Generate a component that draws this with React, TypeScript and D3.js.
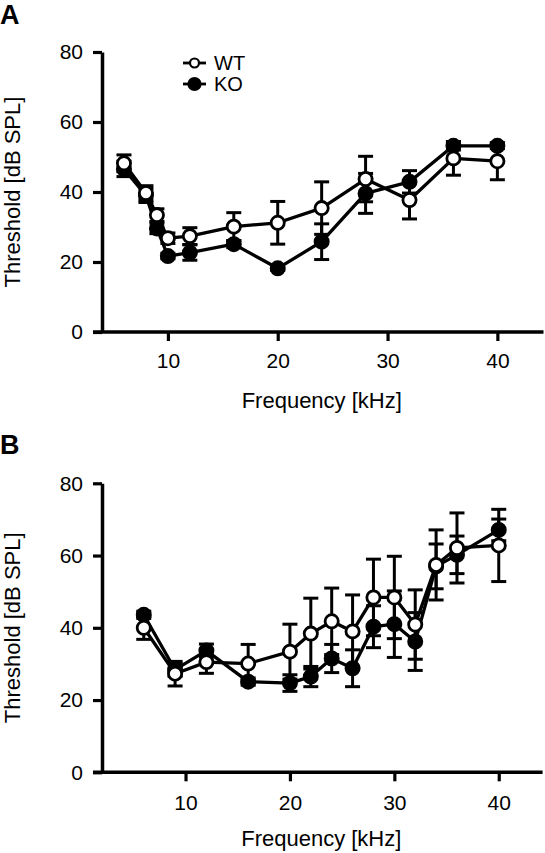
import React, { useEffect, useRef } from "react";
import * as d3 from "d3";

// Panel A
const freqA = [6, 8, 9, 10, 12, 16, 20, 24, 28, 32, 36, 40];
const wtA = [48.2, 39.7, 33.4, 26.8, 27.4, 30.1, 31.2, 35.4, 43.7, 37.7, 49.6, 48.8];
const wtErrA = [2.4, 2.1, 1.8, 1.5, 2.4, 4.0, 6.1, 7.5, 6.5, 5.4, 4.8, 5.3];
const koA = [46.6, 39.0, 29.6, 21.7, 22.7, 25.1, 18.2, 25.8, 39.6, 42.9, 53.2, 53.2];
const koErrA = [2.2, 2.0, 1.5, 0.8, 2.2, 1.0, 0.6, 5.1, 5.7, 3.2, 1.2, 0.8];

// Panel B
const freqB = [6, 9, 12, 16, 20, 22, 24, 26, 28, 30, 32, 34, 36, 40];
const wtB = [40.0, 27.3, 30.5, 30.1, 33.4, 38.4, 41.8, 39.0, 48.4, 48.4, 40.9, 57.4, 62.1, 62.8];
const wtErrB = [3.2, 3.4, 3.1, 5.3, 7.6, 9.8, 9.2, 10.1, 10.6, 11.4, 9.6, 9.7, 9.7, 10.0];
const koB = [43.6, 28.4, 33.7, 25.1, 24.7, 26.5, 31.5, 28.8, 40.3, 41.0, 36.2, 57.0, 60.2, 67.1];
const koErrB = [1.0, 1.8, 1.8, 1.0, 2.3, 2.8, 3.9, 5.1, 5.8, 9.2, 8.0, 6.2, 5.2, 3.0];

const yTicks = [0, 20, 40, 60, 80];
const xTicks = [10, 20, 30, 40];
const seriesNames = ["WT", "KO"];
const panelLabels = ["A", "B"];
const xTitle = "Frequency [kHz]";
const yTitle = "Threshold [dB SPL]";

const FONT = "'Liberation Sans', Arial, Helvetica, sans-serif";

export default function App() {
  const ref = useRef<SVGSVGElement | null>(null);

  useEffect(() => {
    const svg = d3.select(ref.current);
    svg.selectAll("*").remove();

    const panels = [
      {
        label: panelLabels[0], labelX: 0, labelY: 24,
        freq: freqA, wt: wtA, wtErr: wtErrA, ko: koA, koErr: koErrA,
        x: d3.scaleLinear().domain([4, 44.2]).range([102, 543.5]),
        y: d3.scaleLinear().domain([0, 80]).range([332, 52]),
        tickPad: 12, titleY: 408, legend: true,
      },
      {
        label: panelLabels[1], labelX: 0, labelY: 454,
        freq: freqB, wt: wtB, wtErr: wtErrB, ko: koB, koErr: koErrB,
        x: d3.scaleLinear().domain([2, 44.2]).range([102, 542.6]),
        y: d3.scaleLinear().domain([0, 80]).range([772.3, 483.3]),
        tickPad: 14, titleY: 846, legend: false,
      },
    ];

    panels.forEach((p) => {
      const g = svg.append("g");
      const [x0, x1] = p.x.range();
      const [y0, y1] = p.y.range();

      // panel label
      g.append("text")
        .attr("x", p.labelX).attr("y", p.labelY)
        .attr("font-family", FONT).attr("font-weight", "bold")
        .attr("font-size", 27).text(p.label);

      // y axis
      const yAxis = d3.axisLeft(p.y).tickValues(yTicks).tickSize(9).tickSizeOuter(0).tickPadding(10);
      const gy = g.append("g").attr("transform", `translate(${x0},0)`).call(yAxis);
      gy.select(".domain").attr("stroke", "#000").attr("stroke-width", 3.5);
      gy.selectAll(".tick line").attr("stroke", "#000").attr("stroke-width", 3.2);
      gy.selectAll(".tick text").attr("font-family", FONT).attr("font-size", 21).attr("fill", "#000");

      // x axis
      const xAxis = d3.axisBottom(p.x).tickValues(xTicks).tickSize(9).tickSizeOuter(0).tickPadding(p.tickPad);
      const gx = g.append("g").attr("transform", `translate(0,${y0})`).call(xAxis);
      gx.select(".domain").attr("stroke", "#000").attr("stroke-width", 3.5)
        .attr("d", `M${x0 - 9},0H${x1}`);
      gx.selectAll(".tick line").attr("stroke", "#000").attr("stroke-width", 3.2);
      gx.selectAll(".tick text").attr("font-family", FONT).attr("font-size", 21).attr("fill", "#000");

      // titles
      g.append("text")
        .attr("x", (x0 + x1) / 2 - 1).attr("y", p.titleY)
        .attr("text-anchor", "middle").attr("font-family", FONT).attr("font-size", 22)
        .text(xTitle);
      g.append("text")
        .attr("transform", `translate(20,${(y0 + y1) / 2}) rotate(-90)`)
        .attr("text-anchor", "middle").attr("font-family", FONT).attr("font-size", 22)
        .text(yTitle);

      const series = [
        { vals: p.ko, err: p.koErr, fill: "#000", r: 6.6 },
        { vals: p.wt, err: p.wtErr, fill: "#fff", r: 6.6 },
      ];

      series.forEach((s) => {
        const sg = g.append("g");
        const pts = p.freq.map((f, i) => ({ f, v: s.vals[i], e: s.err[i] }));
        // error bars
        const eb = sg.selectAll(".eb").data(pts).enter().append("g");
        eb.append("line")
          .attr("x1", (d) => p.x(d.f)).attr("x2", (d) => p.x(d.f))
          .attr("y1", (d) => p.y(d.v - d.e)).attr("y2", (d) => p.y(d.v + d.e))
          .attr("stroke", "#000").attr("stroke-width", 3);
        [1, -1].forEach((sgn) => {
          eb.append("line")
            .attr("x1", (d) => p.x(d.f) - 7.5).attr("x2", (d) => p.x(d.f) + 7.5)
            .attr("y1", (d) => p.y(d.v + sgn * d.e)).attr("y2", (d) => p.y(d.v + sgn * d.e))
            .attr("stroke", "#000").attr("stroke-width", 3);
        });
        // line
        const line = d3.line<{ f: number; v: number }>().x((d) => p.x(d.f)).y((d) => p.y(d.v));
        sg.append("path").datum(pts).attr("d", line).attr("fill", "none")
          .attr("stroke", "#000").attr("stroke-width", 3.3).attr("stroke-linejoin", "round");
        // markers
        sg.selectAll("circle").data(pts).enter().append("circle")
          .attr("cx", (d) => p.x(d.f)).attr("cy", (d) => p.y(d.v)).attr("r", s.r)
          .attr("fill", s.fill).attr("stroke", "#000").attr("stroke-width", 2.8);
      });

      if (p.legend) {
        const lg = g.append("g");
        const rows = [
          { name: seriesNames[0], y: 63, fill: "#fff", r: 4.5 },
          { name: seriesNames[1], y: 84, fill: "#000", r: 6 },
        ];
        rows.forEach((r) => {
          lg.append("line").attr("x1", 183).attr("x2", 206).attr("y1", r.y).attr("y2", r.y)
            .attr("stroke", "#000").attr("stroke-width", 2.8);
          lg.append("circle").attr("cx", 194.5).attr("cy", r.y).attr("r", r.r)
            .attr("fill", r.fill).attr("stroke", "#000").attr("stroke-width", 2.2);
          lg.append("text").attr("x", 214).attr("y", r.y + 7.2)
            .attr("font-family", FONT).attr("font-size", 20).text(r.name);
        });
      }
    });
  }, []);

  return (
    <svg
      ref={ref}
      width={545}
      height={853}
      style={{ position: "absolute", left: 0, top: 0, background: "#fff" }}
    />
  );
}
